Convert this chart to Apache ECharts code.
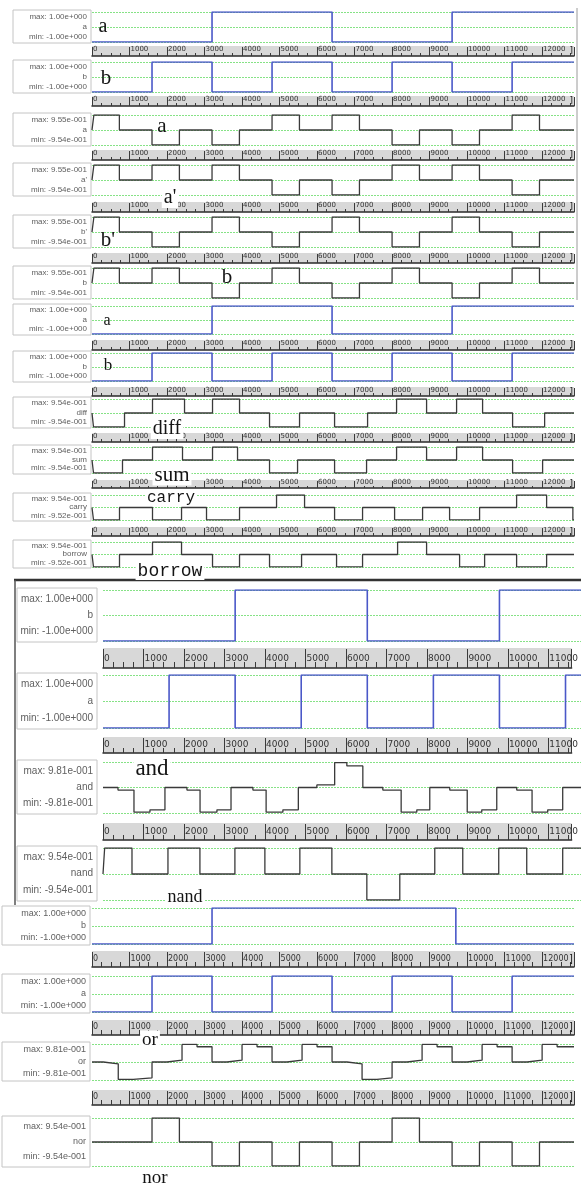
<!DOCTYPE html>
<html><head><meta charset="utf-8">
<script src="https://cdn.jsdelivr.net/npm/echarts@6.0.0/dist/echarts.min.js"></script>
<style>html,body{margin:0;padding:0;background:#fff}#c{width:581px;height:1195px}</style>
</head><body><div id="c"></div>
<script>
// ================= DATA =================
const timeTickLabels = ['0','1000','2000','3000','4000','5000','6000','7000','8000','9000','10000','11000','12000'];

// ---- Section 1 (a, b inputs and analog a, a', b', b) ----
const s1Names = ['a','b','a',"a'","b'",'b'];
const s1Max = [1.00, 1.00, 0.955, 0.955, 0.955, 0.955];
const s1Min = [-1.00, -1.00, -0.954, -0.954, -0.954, -0.954];
const s1_a = [[0,-1],[3200,1],[6400,-1],[9600,1],[12850,1]];
const s1_b = [[0,-1],[1600,1],[3200,-1],[4800,1],[6400,-1],[8000,1],[9600,-1],[11200,1],[12850,1]];
const s1_aAnalog = [[0,0],[50,0.955],[730,0],[1600,-0.954],[2330,0],[3200,-0.954],[3930,0],[4800,0.955],[5530,0],[6400,0.955],[7130,0],[8000,-0.954],[8730,0],[9600,-0.954],[10330,0],[11200,0.955],[11930,0],[12850,0]];
const s1_aPrime = [[0,0],[50,0.955],[730,0],[1600,0.955],[2330,0],[3200,0.955],[3930,0],[4800,-0.954],[5530,0],[6400,-0.954],[7130,0],[8000,0.955],[8730,0],[9600,0.955],[10330,0],[11200,-0.954],[11930,0],[12850,0]];
const s1_bPrime = [[0,0],[50,0.955],[730,0],[1600,-0.954],[2330,0],[3200,0.955],[3930,0],[4800,-0.954],[5530,0],[6400,0.955],[7130,0],[8000,-0.954],[8730,0],[9600,0.955],[10330,0],[11200,-0.954],[11930,0],[12850,0]];
const s1_bAnalog = [[0,0],[50,0.955],[730,0],[1600,0.955],[2330,0],[3200,-0.954],[3930,0],[4800,0.955],[5530,0],[6400,-0.954],[7130,0],[8000,0.955],[8730,0],[9600,-0.954],[10330,0],[11200,0.955],[11930,0],[12850,0]];

// ---- Section 2 (a, b, diff, sum, carry, borrow) ----
const s2Names = ['a','b','diff','sum','carry','borrow'];
const s2Max = [1.00, 1.00, 0.954, 0.954, 0.954, 0.954];
const s2Min = [-1.00, -1.00, -0.954, -0.954, -0.952, -0.952];
const s2_a = [[0,-1],[3200,1],[6400,-1],[9600,1],[12850,1]];
const s2_b = [[0,-1],[1600,1],[3200,-1],[4800,1],[6400,-1],[8000,1],[9600,-1],[11200,1],[12850,1]];
const s2_diff = [[0,0],[40,-0.954],[867,0],[1613,0.954],[2467,0],[3213,0.954],[3933,0],[4733,-0.954],[5533,0],[6467,-0.954],[7347,0],[8120,0.954],[8920,0],[9720,0.954],[10413,0],[11213,-0.954],[12067,0],[12850,0]];
const s2_sum = [[0,0],[40,-0.954],[813,0],[1613,0.954],[2413,0],[3213,0.954],[3880,0],[4733,-0.954],[5480,0],[6467,-0.954],[7320,0],[8120,0.954],[8920,0],[9720,0.954],[10413,0],[11213,-0.954],[12013,0],[12850,0]];
const s2_carry = [[0,0],[40,-0.952],[733,0],[1613,-0.952],[2387,0],[3053,-0.952],[3933,0],[4920,0.954],[5667,0],[6467,-0.952],[7213,0],[8067,-0.952],[8813,0],[9533,-0.952],[10333,0],[11320,0.954],[12120,0],[12820,-0.952],[12850,-0.952]];
const s2_borrow = [[0,0],[40,-0.952],[733,0],[1613,0.954],[2387,0],[3213,-0.952],[3933,0],[4733,-0.952],[5587,0],[6520,-0.952],[7213,0],[8147,0.954],[8920,0],[9800,-0.952],[10467,0],[11320,-0.952],[12120,0],[12850,0]];

// ---- Section 3 (b, a, and, nand) ----
const s3Names = ['b','a','and','nand'];
const s3Max = [1.00, 1.00, 0.981, 0.954];
const s3Min = [-1.00, -1.00, -0.981, -0.954];
const s3_b = [[0,-1],[3200,1],[6400,-1],[9600,1],[11575,1]];
const s3_a = [[0,-1],[1600,1],[3200,-1],[4800,1],[6400,-1],[8000,1],[9600,-1],[11200,1],[11575,1]];
const s3_and = [[0,0],[363,-0.10],[750,-0.95],[1137,-0.86],[1500,0],[2033,-0.10],[2350,-0.95],[2759,-0.86],[3100,0],[3630,-0.10],[3950,-0.95],[4356,-0.86],[4730,0],[5179,0.10],[5610,0.96],[5905,0.83],[6292,0],[6776,-0.10],[7220,-0.95],[7599,-0.86],[7913,0],[8397,-0.10],[8820,-0.95],[9172,-0.86],[9535,0],[10019,-0.10],[10390,-0.95],[10769,-0.86],[11132,0],[11575,0]];
const s3_nand = [[0,0],[40,0.954],[702,0],[1573,0.954],[2347,0],[3194,0.954],[3920,0],[4767,0.954],[5542,0],[6389,-0.954],[7187,0],[8034,0.954],[8712,0],[9583,0.954],[10261,0],[11132,0.954],[11575,0.954]];

// ---- Section 4 (b, a, or, nor) ----
const s4Names = ['b','a','or','nor'];
const s4Max = [1.00, 1.00, 0.981, 0.954];
const s4Min = [-1.00, -1.00, -0.981, -0.954];
const s4_b = [[0,-1],[3200,1],[9700,-1],[12850,-1]];
const s4_a = [[0,-1],[1600,1],[3200,-1],[4800,1],[6400,-1],[8000,1],[9600,-1],[11200,1],[12850,1]];
const s4_or = [[0,0],[300,-0.10],[700,-0.95],[1100,-0.86],[1600,0],[2000,0.10],[2400,0.96],[2800,0.83],[3200,0],[3600,0.10],[4000,0.96],[4400,0.83],[4800,0],[5200,0.10],[5600,0.96],[6000,0.83],[6400,0],[6800,-0.10],[7200,-0.95],[7600,-0.86],[8000,0],[8400,0.10],[8800,0.96],[9200,0.83],[9600,0],[10000,0.10],[10400,0.96],[10800,0.83],[11200,0],[11600,0.10],[12000,0.96],[12400,0.83],[12850,0.83]];
const s4_nor = [[0,0],[1600,0.954],[2330,0],[3200,-0.954],[3930,0],[4800,-0.954],[5530,0],[6400,-0.954],[7130,0],[8000,0.954],[8730,0],[9600,-0.954],[10330,0],[11200,-0.954],[11930,0],[12850,0]];

// ================= LAYOUT =================
const sections = [
  { names:s1Names, max:s1Max, min:s1Min, waves:[s1_a,s1_b,s1_aAnalog,s1_aPrime,s1_bPrime,s1_bAnalog],
    digital:[true,true,false,false,false,false],
    left:92, width:482, xmax:12850, box:[13,91], labFont:8, tickFont:7, bracket:true,
    panels:[[12,42],[62,92],[115,145],[165,195],[217,247],[268,298]],
    strips:[[46,56],[96,106],[150,160],[202,212],[253,263]] },
  { names:s2Names, max:s2Max, min:s2Min, waves:[s2_a,s2_b,s2_diff,s2_sum,s2_carry,s2_borrow],
    digital:[true,true,false,false,false,false],
    left:92, width:482, xmax:12850, box:[13,91], labFont:8, tickFont:7, bracket:true,
    panels:[[306,334],[353,381],[399,427],[447,473],[495,520],[542,567]],
    strips:[[340,350],[387,396],[433,442],[480,488],[527,536]] },
  { names:s3Names, max:s3Max, min:s3Min, waves:[s3_b,s3_a,s3_and,s3_nand],
    digital:[true,true,false,false],
    left:103, width:478, xmax:11575, box:[17,97], labFont:10, tickFont:9, bracket:false,
    panels:[[590,641],[675,728],[762,813],[848,900]],
    strips:[[648,668],[737,753],[823,840]] },
  { names:s4Names, max:s4Max, min:s4Min, waves:[s4_b,s4_a,s4_or,s4_nor],
    digital:[true,true,false,false],
    left:92, width:482, xmax:12850, box:[2,90], labFont:9, tickFont:8, bracket:true,
    panels:[[908,944],[976,1012],[1044,1080],[1118,1166]],
    strips:[[951,967],[1020,1035],[1090,1105]] }
];

// overlay labels written on the screenshots
const overlays = [
  {t:'a', x:103, y:27, s:20}, {t:'b', x:106, y:78, s:21}, {t:'a', x:162, y:126, s:21},
  {t:"a'", x:170, y:198, s:20, bg:true}, {t:"b'", x:108, y:240, s:21}, {t:'b', x:227, y:277, s:21},
  {t:'a', x:107, y:321, s:16}, {t:'b', x:108, y:366, s:17},
  {t:'diff', x:167, y:429, s:20, bg:true}, {t:'sum', x:172, y:475, s:21, bg:true},
  {t:'carry', x:171, y:498, s:16, mono:true, bg:true}, {t:'borrow', x:170, y:571, s:18, mono:true, bg:true},
  {t:'and', x:152, y:769, s:23, bg:true}, {t:'nand', x:185, y:897, s:18, bg:true},
  {t:'or', x:150, y:1040, s:19, bg:true}, {t:'nor', x:155, y:1178, s:19, bg:true}
];

function fmtSci(v){
  const e = Math.floor(Math.log10(Math.abs(v)));
  const m = v / Math.pow(10, e);
  return m.toFixed(2) + 'e' + (e < 0 ? '-' : '+') + String(Math.abs(e)).padStart(3, '0');
}

const grids = [], xAxis = [], yAxis = [], series = [], graphic = [];

sections.forEach(sec => {
  sec.panels.forEach((pp, i) => {
    const gi = grids.length;
    const amp = sec.max[i];
    grids.push({ left:sec.left, top:pp[0], width:sec.width, height:pp[1]-pp[0], show:false, containLabel:false });
    xAxis.push({ gridIndex:gi, type:'value', min:0, max:sec.xmax, show:false });
    yAxis.push({ gridIndex:gi, type:'value', min:-amp, max:amp, interval:amp,
      axisLine:{show:false}, axisTick:{show:false}, axisLabel:{show:false},
      splitLine:{show:true, showMinLine:true, showMaxLine:true, lineStyle:{color:'#86e286', type:[2,1], width:1}} });
    series.push({ type:'line', xAxisIndex:gi, yAxisIndex:gi, data:sec.waves[i], step:'end', symbol:'none',
      z:3, animation:false, silent:true,
      lineStyle: sec.digital[i] ? {color:'#4a58c8', width:1.6} : {color:'#3a3a3a', width:1.3} });
    const bx = sec.box[0], bw = sec.box[1]-sec.box[0];
    const by = pp[0]-2, bh = pp[1]-pp[0]+3;
    graphic.push({ type:'rect', z:1, shape:{x:bx, y:by, width:bw, height:bh},
      style:{fill:'#fff', stroke:'#c4c4c4', lineWidth:1} });
    const font = sec.labFont + 'px "Liberation Sans", Arial, sans-serif';
    const rx = sec.box[1]-4;
    const rows = [['max: ' + fmtSci(sec.max[i]), by + bh*0.2], [sec.names[i], by + bh*0.5], ['min: ' + fmtSci(sec.min[i]), by + bh*0.8]];
    rows.forEach(r => graphic.push({ type:'text', z:2, x:rx, y:r[1],
      style:{ text:r[0], textAlign:'right', textVerticalAlign:'middle', font:font, fill:'#606060' } }));
  });
  sec.strips.forEach(st => {
    const gi = grids.length;
    const h = st[1]-st[0];
    grids.push({ left:sec.left, top:st[0], width:sec.width, height:h, show:true, backgroundColor:'#d8d8d8', borderWidth:0 });
    xAxis.push({ gridIndex:gi, type:'value', min:0, max:sec.xmax, interval:1000, position:'bottom',
      axisLine:{show:true, onZero:false, lineStyle:{color:'#2a2a2a', width:1.5}},
      axisTick:{show:true, inside:true, length:h-1, lineStyle:{color:'#3a3a3a', width:1}},
      minorTick:{show:true, splitNumber:4, length:Math.max(2, Math.round(h*0.3)), lineStyle:{color:'#3a3a3a', width:1}},
      axisLabel:{ show:true, inside:true, margin: Math.round(h*0.25), align:'left', verticalAlign:'bottom',
        padding:[0,0,0,1], fontSize:sec.tickFont, fontFamily:'DejaVu Sans', color:'#333',
        formatter: v => timeTickLabels[Math.round(v/1000)] || '' },
      splitLine:{show:false} });
    yAxis.push({ gridIndex:gi, type:'value', show:false, min:0, max:1 });
    if (sec.bracket) {
      graphic.push({ type:'text', z:6, x:sec.left + sec.width - 1, y:st[0] + h/2,
        style:{ text:']', textAlign:'right', textVerticalAlign:'middle', font:(sec.tickFont+2)+'px "DejaVu Sans"', fill:'#222' } });
    }
  });
});

overlays.forEach(o => {
  graphic.push({ type:'text', z:20, x:o.x, y:o.y,
    style:{ text:o.t, textAlign:'center', textVerticalAlign:'middle',
      font: o.s + 'px ' + (o.mono ? '"Liberation Mono", monospace' : '"Liberation Serif", serif'),
      fill:'#141414', backgroundColor: o.bg ? '#ffffff' : 'transparent', padding: o.bg ? [0,2,0,2] : 0 } });
});

// frames
graphic.push({ type:'line', z:5, shape:{x1:577, y1:8, x2:577, y2:300}, style:{stroke:'#9a9a9a', lineWidth:1} });
graphic.push({ type:'line', z:5, shape:{x1:14, y1:580, x2:581, y2:580}, style:{stroke:'#333', lineWidth:2.5} });
graphic.push({ type:'line', z:5, shape:{x1:15, y1:580, x2:15, y2:905}, style:{stroke:'#555', lineWidth:1.5} });

const chart = echarts.init(document.getElementById('c'), null, {renderer:'canvas'});
chart.setOption({ animation:false, backgroundColor:'#fff', grid:grids, xAxis:xAxis, yAxis:yAxis, series:series, graphic:graphic });
</script></body></html>
